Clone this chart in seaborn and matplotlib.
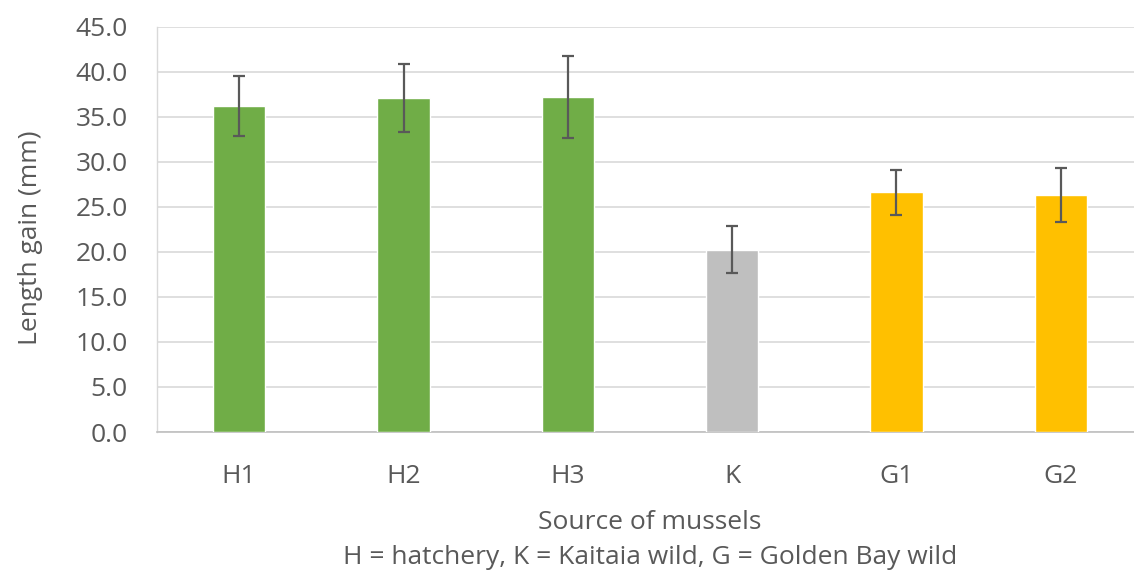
import matplotlib
matplotlib.use("Agg")
import matplotlib.pyplot as plt
import seaborn as sns
import pandas as pd

categories = ["H1", "H2", "H3", "K", "G1", "G2"]
length_gain = [36.2, 37.1, 37.2, 20.25, 26.6, 26.3]
errors = [3.35, 3.8, 4.6, 2.6, 2.5, 3.0]
bar_colors = ["#70AD47", "#70AD47", "#70AD47", "#BFBFBF", "#FFC000", "#FFC000"]
y_ticks = [0, 5, 10, 15, 20, 25, 30, 35, 40, 45]

sns.set_theme(style="white")
plt.rcParams["font.family"] = ["Open Sans", "DejaVu Sans"]

FS = 19
W, H = 1134, 571
fig = plt.figure(figsize=(W / 100, H / 100), dpi=100)
left, right, top, bottom = 157, 1143, 26.7, 432
ax = fig.add_axes([left / W, (H - bottom) / H, (right - left) / W, (bottom - top) / H])

df = pd.DataFrame({"cat": categories, "val": length_gain})
sns.barplot(data=df, x="cat", y="val", hue="cat", palette=bar_colors,
            width=0.317, legend=False, ax=ax, saturation=1, zorder=3)
ax.errorbar(range(len(categories)), length_gain, yerr=errors, fmt="none",
            ecolor="#595959", elinewidth=1.6, capsize=4.3, capthick=1.6, zorder=4)

ax.set_ylim(0, 45)
ax.set_xlim(-0.5, len(categories) - 0.5)
ax.set_yticks(y_ticks)
ax.set_yticklabels([f"{v:.1f}" for v in y_ticks])
ax.yaxis.grid(True, color="#D9D9D9", linewidth=1.2, zorder=0)
ax.xaxis.grid(False)
ax.set_axisbelow(True)
for s in ["top", "right"]:
    ax.spines[s].set_visible(False)
ax.spines["left"].set_color("#D9D9D9")
ax.spines["bottom"].set_color("#BFBFBF")
ax.spines["left"].set_linewidth(1.0)
ax.spines["bottom"].set_linewidth(1.2)

ax.tick_params(axis="y", length=0, pad=21, labelsize=FS, labelcolor="#595959")
ax.tick_params(axis="x", length=0, pad=23, labelsize=FS, labelcolor="#595959")

ax.set_ylabel("Length gain (mm)", fontsize=FS, color="#595959")
ax.yaxis.set_label_coords(-0.116, 0.48)
ax.set_xlabel("Source of mussels", fontsize=FS, color="#595959")
ax.xaxis.set_label_coords(0.5, -0.192)
fig.text(650 / W, (H - 557) / H, "H = hatchery, K = Kaitaia wild, G = Golden Bay wild",
         ha="center", va="center", fontsize=FS, color="#595959")

fig.savefig("out.png", dpi=100)
